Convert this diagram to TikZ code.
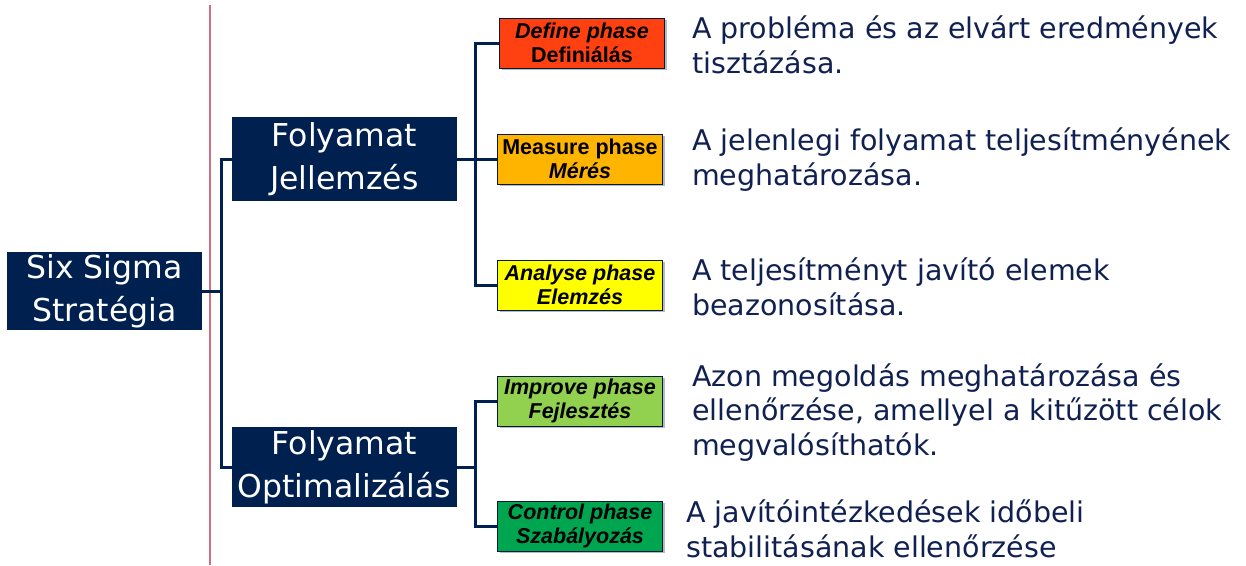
\documentclass[tikz,border=0pt]{standalone}
\usepackage{fontspec}
\setmainfont{DejaVu Sans}
\newfontfamily\boxfont{Liberation Sans}
\usetikzlibrary{shadows}

\definecolor{navy}{RGB}{0,32,80}
\definecolor{descnavy}{RGB}{16,32,80}
\definecolor{redline}{RGB}{210,110,130}
\definecolor{defcol}{RGB}{255,64,16}
\definecolor{meascol}{RGB}{255,180,0}
\definecolor{anacol}{RGB}{255,255,0}
\definecolor{impcol}{RGB}{146,208,80}
\definecolor{ctrlcol}{RGB}{0,165,80}

\tikzset{
    mainbox/.style={fill=navy, text=white, inner sep=0pt, align=center,
        font=\fontsize{31.5}{43}\selectfont},
    phasebox/.style={draw=navy!80!black, line width=1pt, minimum width=165pt, minimum height=50pt,
        inner sep=0pt, align=center, font=\boxfont\bfseries\fontsize{21.5}{23.5}\selectfont,
        drop shadow={shadow xshift=2pt, shadow yshift=-2pt, fill=black!45, opacity=0.6}},
    desc/.style={anchor=base west, inner sep=0pt, align=left, text=descnavy,
        font=\fontsize{28.5}{34.5}\selectfont},
    branch/.style={draw=navy, line width=3pt}
}

\begin{document}
\begin{tikzpicture}[x=1pt,y=-1pt]
    \useasboundingbox (0,0) rectangle (1246,565);
    \draw[redline, line width=1.2pt] (210,5) -- (210,565);

    \node[mainbox, minimum width=195pt, minimum height=78pt] (sixsigma) at (104.5,291) {Six Sigma\\Stratégia};
    \node[mainbox, minimum width=225pt, minimum height=84pt] (jellemzes) at (344.5,159) {Folyamat\\Jellemzés};
    \node[mainbox, minimum width=225pt, minimum height=80pt] (optimal) at (344.5,467) {Folyamat\\Optimalizálás};

    \node[phasebox, fill=defcol] (define) at (582,43) {\textit{Define phase}\\Definiálás};
    \node[phasebox, fill=meascol] (measure) at (580,159) {Measure phase\\\textit{Mérés}};
    \node[phasebox, fill=anacol] (analyse) at (580,285) {\textit{Analyse phase}\\\textit{Elemzés}};
    \node[phasebox, fill=impcol] (improve) at (580,401) {\textit{Improve phase}\\\textit{Fejlesztés}};
    \node[phasebox, fill=ctrlcol] (control) at (580,526) {\textit{Control phase}\\\textit{Szabályozás}};

    \coordinate (j1) at (221,291);
    \coordinate (j2) at (475,159);
    \coordinate (j3) at (475,467);

    \draw[branch] (sixsigma.east) -- (j1);
    \draw[branch] (jellemzes.west) -| (j1) |- (optimal.west);
    \draw[branch] (jellemzes.east) -- (measure.west);
    \draw[branch] (define.west) -| (j2) |- (analyse.west);
    \draw[branch] (optimal.east) -- (j3);
    \draw[branch] (improve.west) -| (j3) |- (control.west);

    \node[desc] (ddefine) at (692,73) {A probléma és az elvárt eredmények\\tisztázása.};
    \node[desc] (dmeasure) at (692,185) {A jelenlegi folyamat teljesítményének\\meghatározása.};
    \node[desc] (danalyse) at (692,315) {A teljesítményt javító elemek\\beazonosítása.};
    \node[desc] (dimprove) at (692,455) {Azon megoldás meghatározása és\\ellenőrzése, amellyel a kitűzött célok\\megvalósíthatók.};
    \node[desc] (dcontrol) at (686,557) {A javítóintézkedések időbeli\\stabilitásának ellenőrzése};
\end{tikzpicture}
\end{document}
